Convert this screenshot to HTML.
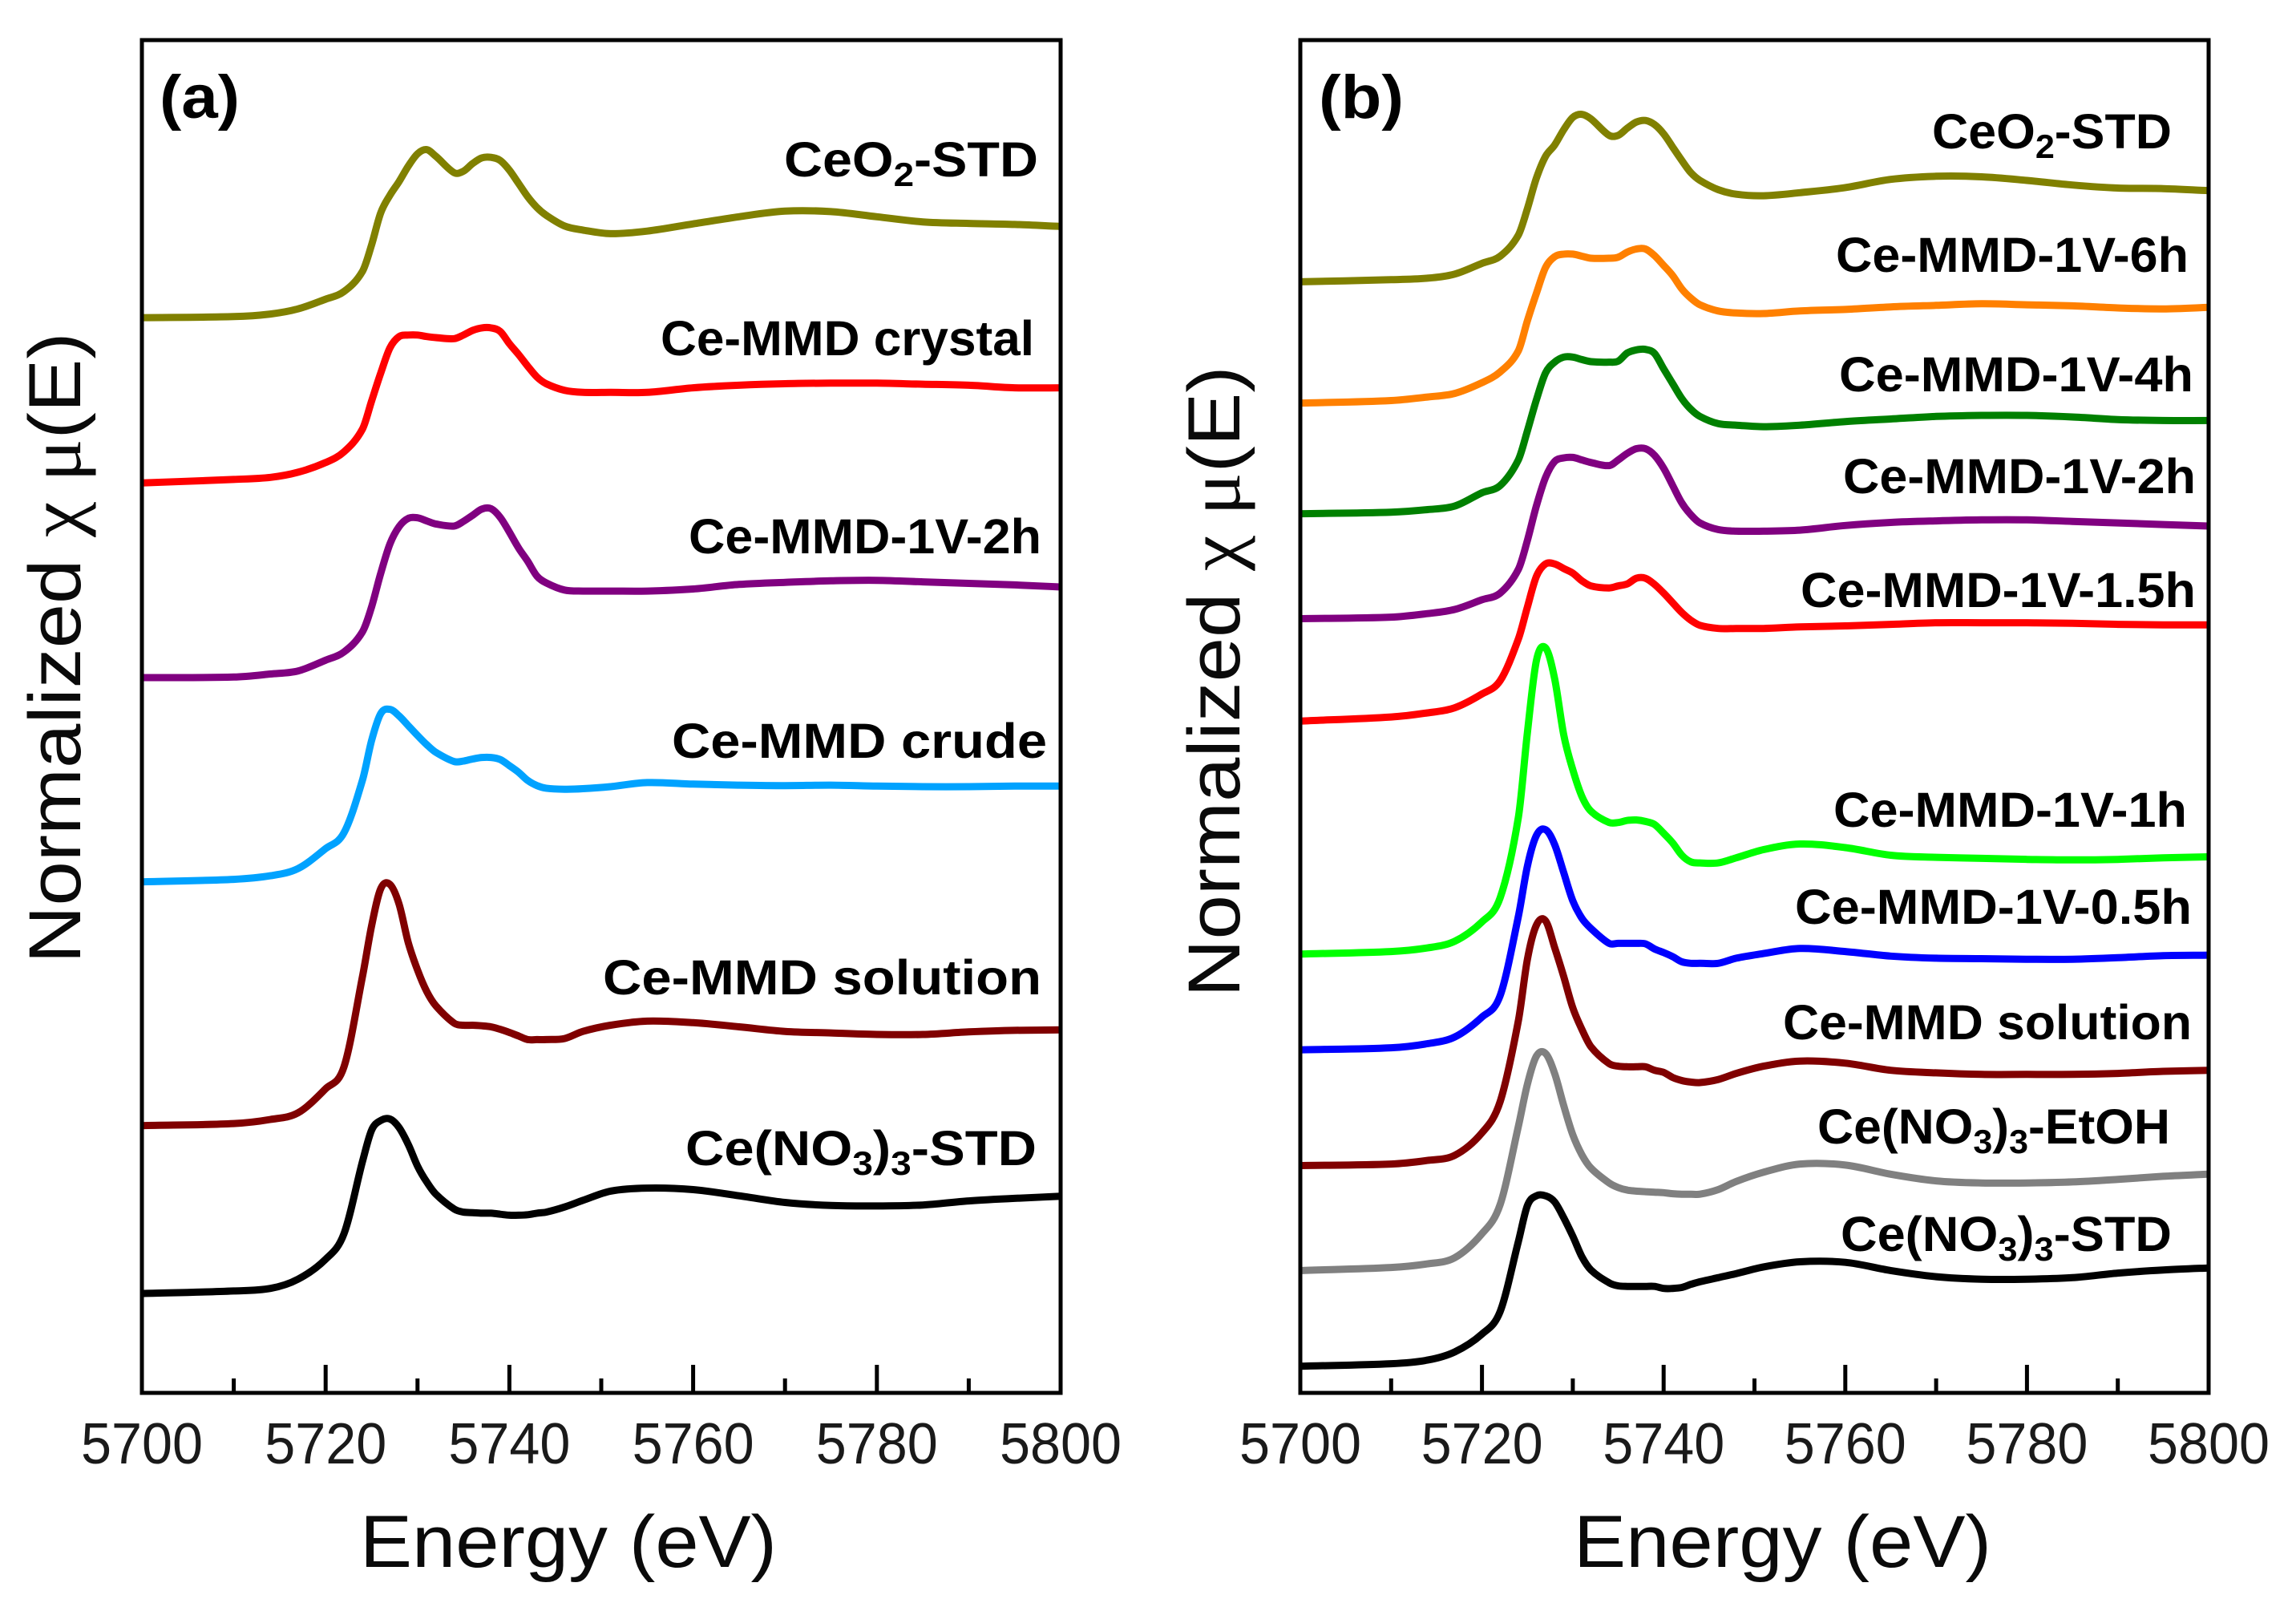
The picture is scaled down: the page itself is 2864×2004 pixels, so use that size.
<!DOCTYPE html>
<html lang="en">
<head>
<meta charset="utf-8">
<title>Normalized XANES spectra</title>
<style>
  html, body { margin: 0; padding: 0; background: #fff; }
  body { width: 2864px; height: 2004px; overflow: hidden; }
  svg { display: block; font-family: "Liberation Sans", sans-serif; }
  .lbl { font-weight: bold; font-size: 61px; fill: #000; }
  .sub { font-size: 42px; }
  .tick { font-size: 72px; fill: #1a1a1a; text-anchor: middle; }
  .xt { font-size: 92px; fill: #0a0a0a; }
  .yt { font-size: 92px; fill: #0a0a0a; text-anchor: middle; }
  .pl { font-weight: bold; font-size: 76px; fill: #000; }
</style>
</head>
<body>
<svg id="fig" xmlns="http://www.w3.org/2000/svg" width="2864" height="2004" viewBox="0 0 2864 2004">
  <g id="panel-a">
    <g id="plot-a"></g>
    <rect x="177" y="50" width="1146" height="1687" fill="none" stroke="#000" stroke-width="5"/>
    <g id="axis-a"></g>
    <text class="pl" x="199" y="147" textLength="100" lengthAdjust="spacingAndGlyphs">(a)</text>
    <text class="xt" x="449" y="1954" textLength="520" lengthAdjust="spacingAndGlyphs">Energy (eV)</text>
    <text class="yt" x="100" y="808" transform="rotate(-90 100 808)" textLength="787" lengthAdjust="spacingAndGlyphs">Normalized <tspan font-family="'Liberation Serif', serif">χ μ</tspan>(E)</text>
    <text class="lbl" x="978" y="220" textLength="317" lengthAdjust="spacingAndGlyphs">CeO<tspan class="sub" dy="12">2</tspan><tspan dy="-12">-STD</tspan></text>
    <text class="lbl" x="824" y="443" textLength="466" lengthAdjust="spacingAndGlyphs">Ce-MMD crystal</text>
    <text class="lbl" x="859" y="690" textLength="440" lengthAdjust="spacingAndGlyphs">Ce-MMD-1V-2h</text>
    <text class="lbl" x="838" y="945" textLength="468" lengthAdjust="spacingAndGlyphs">Ce-MMD crude</text>
    <text class="lbl" x="752" y="1240" textLength="547" lengthAdjust="spacingAndGlyphs">Ce-MMD solution</text>
    <text class="lbl" x="855" y="1453" textLength="438" lengthAdjust="spacingAndGlyphs">Ce(NO<tspan class="sub" dy="12">3</tspan><tspan dy="-12">)</tspan><tspan class="sub" dy="12">3</tspan><tspan dy="-12">-STD</tspan></text>
  </g>
  <g id="panel-b">
    <g id="plot-b"></g>
    <rect x="1622" y="50" width="1133" height="1687" fill="none" stroke="#000" stroke-width="5"/>
    <g id="axis-b"></g>
    <text class="pl" x="1645" y="147" textLength="106" lengthAdjust="spacingAndGlyphs">(b)</text>
    <text class="xt" x="1963" y="1954" textLength="521" lengthAdjust="spacingAndGlyphs">Energy (eV)</text>
    <text class="yt" x="1546" y="850" transform="rotate(-90 1546 850)" textLength="787" lengthAdjust="spacingAndGlyphs">Normalized <tspan font-family="'Liberation Serif', serif">χ μ</tspan>(E)</text>
    <text class="lbl" x="2410" y="185" textLength="299" lengthAdjust="spacingAndGlyphs">CeO<tspan class="sub" dy="12">2</tspan><tspan dy="-12">-STD</tspan></text>
    <text class="lbl" x="2290" y="339" textLength="440" lengthAdjust="spacingAndGlyphs">Ce-MMD-1V-6h</text>
    <text class="lbl" x="2294" y="488" textLength="442" lengthAdjust="spacingAndGlyphs">Ce-MMD-1V-4h</text>
    <text class="lbl" x="2299" y="615" textLength="440" lengthAdjust="spacingAndGlyphs">Ce-MMD-1V-2h</text>
    <text class="lbl" x="2246" y="757" textLength="493" lengthAdjust="spacingAndGlyphs">Ce-MMD-1V-1.5h</text>
    <text class="lbl" x="2287" y="1031" textLength="441" lengthAdjust="spacingAndGlyphs">Ce-MMD-1V-1h</text>
    <text class="lbl" x="2239" y="1152" textLength="495" lengthAdjust="spacingAndGlyphs">Ce-MMD-1V-0.5h</text>
    <text class="lbl" x="2224" y="1296" textLength="510" lengthAdjust="spacingAndGlyphs">Ce-MMD solution</text>
    <text class="lbl" x="2267" y="1426" textLength="440" lengthAdjust="spacingAndGlyphs">Ce(NO<tspan class="sub" dy="12">3</tspan><tspan dy="-12">)</tspan><tspan class="sub" dy="12">3</tspan><tspan dy="-12">-EtOH</tspan></text>
    <text class="lbl" x="2296" y="1560" textLength="413" lengthAdjust="spacingAndGlyphs">Ce(NO<tspan class="sub" dy="12">3</tspan><tspan dy="-12">)</tspan><tspan class="sub" dy="12">3</tspan><tspan dy="-12">-STD</tspan></text>
  </g>
</svg>
<script>
// Shared energy grid (eV) and tick values
const energy = [5700,5710,5714,5717,5720,5722,5724,5725,5726,5727,5728,5729,5730,5731,5732,5734,5735,5736,5737,5738,5739,5740,5741,5742,5743,5744,5746,5748,5751,5755,5760,5765,5770,5775,5780,5785,5790,5795,5800];
const majorTicks = [5700,5720,5740,5760,5780,5800];
const minorTicks = [5710,5730,5750,5770,5790];
const energyDomain = [5700,5800];
const intensityDomain = [0,2642];

// Panel (a): stacked normalized intensity, arbitrary units
const aCeO2 = [2100,2102,2107,2117,2136,2151,2190,2242,2305,2339,2366,2396,2420,2428,2415,2383,2386,2401,2412,2413,2407,2388,2362,2336,2315,2300,2279,2271,2264,2269,2283,2297,2308,2307,2297,2287,2284,2282,2278];
const aCrystal = [1777,1784,1788,1798,1817,1838,1882,1937,1992,2041,2063,2066,2066,2063,2061,2059,2066,2075,2080,2080,2073,2049,2028,2005,1984,1971,1958,1954,1954,1954,1963,1968,1971,1972,1972,1970,1968,1963,1963];
const a1V2h = [1397,1398,1404,1410,1431,1447,1486,1535,1601,1658,1692,1708,1709,1703,1697,1693,1702,1714,1726,1727,1710,1681,1650,1624,1595,1582,1568,1566,1566,1566,1570,1579,1583,1586,1587,1584,1581,1578,1574];
const aCrude = [998,1003,1010,1024,1063,1094,1196,1274,1327,1335,1322,1303,1284,1266,1251,1233,1234,1238,1241,1241,1237,1225,1212,1196,1186,1181,1179,1180,1184,1192,1189,1187,1186,1187,1185,1184,1184,1185,1185];
const aSolution = [522,526,534,547,594,637,812,912,985,993,954,879,826,784,756,722,718,718,717,715,710,704,697,690,690,690,692,706,718,726,723,715,706,703,700,700,705,708,709];
const aNitrate = [194,199,204,222,261,311,451,513,532,535,518,485,443,412,388,359,353,352,351,351,349,347,347,348,351,353,363,376,394,400,397,385,372,366,365,367,375,380,384];

// Panel (b)
const bCeO2 = [2170,2174,2177,2185,2206,2220,2261,2313,2373,2415,2437,2467,2491,2497,2488,2456,2456,2470,2482,2485,2477,2459,2433,2407,2383,2368,2350,2341,2338,2344,2354,2370,2376,2375,2368,2359,2353,2352,2348];
const b6h = [1933,1938,1945,1952,1973,1994,2035,2094,2148,2198,2219,2224,2224,2220,2216,2216,2218,2228,2234,2234,2221,2202,2182,2156,2138,2125,2113,2109,2108,2113,2116,2121,2124,2127,2125,2123,2119,2117,2120];
const b4h = [1717,1720,1725,1732,1758,1772,1822,1879,1940,1992,2013,2023,2023,2018,2014,2013,2015,2031,2037,2038,2030,2000,1971,1942,1921,1907,1893,1890,1887,1890,1897,1902,1907,1909,1909,1906,1901,1899,1899];
const b2h = [1512,1515,1522,1530,1549,1562,1608,1665,1733,1788,1819,1826,1827,1822,1817,1811,1822,1835,1844,1844,1831,1806,1772,1738,1715,1699,1686,1683,1683,1685,1694,1700,1703,1705,1705,1702,1699,1696,1693];
const b1p5h = [1312,1320,1328,1338,1365,1391,1472,1535,1595,1619,1619,1610,1601,1586,1576,1572,1576,1580,1591,1591,1579,1562,1543,1524,1509,1499,1493,1493,1493,1496,1498,1501,1504,1504,1504,1503,1501,1500,1500];
const b1h = [857,862,869,882,920,967,1123,1290,1431,1455,1395,1285,1217,1165,1136,1114,1114,1118,1119,1116,1110,1093,1074,1050,1037,1035,1035,1045,1061,1072,1065,1050,1046,1044,1042,1041,1042,1045,1047];
const b0p5h = [670,674,682,695,734,776,930,1029,1089,1100,1071,1016,961,927,907,878,878,878,878,877,867,860,852,842,839,839,839,849,858,868,862,853,849,848,847,847,850,854,855];
const bSolution = [444,447,454,464,508,569,726,847,914,922,870,813,752,710,676,643,638,637,637,637,630,626,616,610,607,606,612,624,638,648,644,630,625,622,622,622,624,628,630];
const bEtOH = [239,245,252,264,311,368,520,603,658,663,624,561,504,465,439,410,401,396,394,393,392,391,389,388,388,388,397,413,431,447,445,427,414,410,410,412,417,423,427];
const bNitrate = [52,57,64,80,115,159,295,366,385,385,373,342,306,266,240,215,209,208,208,208,208,204,204,206,212,217,225,233,246,256,255,239,227,222,222,225,234,240,244];

const NS = 'http://www.w3.org/2000/svg';

function makeScale(domain, range) {
  return function (v) {
    return range[0] + (v - domain[0]) * (range[1] - range[0]) / (domain[1] - domain[0]);
  };
}

function curvePath(xs, ys) {
  let d = 'M' + xs[0].toFixed(1) + ' ' + ys[0].toFixed(1);
  for (let i = 0; i < xs.length - 1; i++) {
    const i0 = Math.max(0, i - 1), i3 = Math.min(xs.length - 1, i + 2);
    const dx = xs[i + 1] - xs[i];
    const t1 = (ys[i + 1] - ys[i0]) / Math.max(1e-6, xs[i + 1] - xs[i0]);
    const t2 = (ys[i3] - ys[i]) / Math.max(1e-6, xs[i3] - xs[i]);
    d += 'C' + (xs[i] + dx / 3).toFixed(1) + ' ' + (ys[i] + t1 * dx / 3).toFixed(1) + ' ' +
         (xs[i + 1] - dx / 3).toFixed(1) + ' ' + (ys[i + 1] - t2 * dx / 3).toFixed(1) + ' ' +
         xs[i + 1].toFixed(1) + ' ' + ys[i + 1].toFixed(1);
  }
  return d;
}

function drawSeries(parent, sx, sy, values, color, name) {
  const p = document.createElementNS(NS, 'path');
  
  
  p.setAttribute('d', curvePath(energy.map(sx), values.map(sy)));
  p.setAttribute('fill', 'none');
  p.setAttribute('stroke', color);
  p.setAttribute('stroke-width', '9');
  p.setAttribute('stroke-linejoin', 'round');
  parent.appendChild(p);
}

function drawAxis(parent, sx, bottom, labelBaseline) {
  majorTicks.forEach(function (t) {
    const l = document.createElementNS(NS, 'line');
    
    
    l.setAttribute('x1', sx(t)); l.setAttribute('x2', sx(t));
    l.setAttribute('y1', bottom); l.setAttribute('y2', bottom - 35);
    l.setAttribute('stroke', '#000'); l.setAttribute('stroke-width', '5');
    parent.appendChild(l);
    const txt = document.createElementNS(NS, 'text');
    
    
    txt.setAttribute('class', 'tick');
    txt.setAttribute('x', sx(t));
    txt.setAttribute('y', labelBaseline);
    txt.setAttribute('textLength', '152');
    txt.setAttribute('lengthAdjust', 'spacingAndGlyphs');
    txt.textContent = String(t);
    parent.appendChild(txt);
  });
  minorTicks.forEach(function (t) {
    const l = document.createElementNS(NS, 'line');
    
    
    l.setAttribute('x1', sx(t)); l.setAttribute('x2', sx(t));
    l.setAttribute('y1', bottom); l.setAttribute('y2', bottom - 18);
    l.setAttribute('stroke', '#000'); l.setAttribute('stroke-width', '5');
    parent.appendChild(l);
  });
}

const sy = makeScale(intensityDomain, [1737, 50]);
const sxA = makeScale(energyDomain, [177, 1323]);
const sxB = makeScale(energyDomain, [1622, 2755]);
const plotA = document.getElementById('plot-a');
const plotB = document.getElementById('plot-b');

drawSeries(plotA, sxA, sy, aCeO2, '#808000', 'series-a-ceo2-std');
drawSeries(plotA, sxA, sy, aCrystal, '#ff0000', 'series-a-crystal');
drawSeries(plotA, sxA, sy, a1V2h, '#800080', 'series-a-1v-2h');
drawSeries(plotA, sxA, sy, aCrude, '#00a2ff', 'series-a-crude');
drawSeries(plotA, sxA, sy, aSolution, '#800000', 'series-a-solution');
drawSeries(plotA, sxA, sy, aNitrate, '#000000', 'series-a-ceno3-std');

drawSeries(plotB, sxB, sy, bCeO2, '#808000', 'series-b-ceo2-std');
drawSeries(plotB, sxB, sy, b6h, '#ff8000', 'series-b-1v-6h');
drawSeries(plotB, sxB, sy, b4h, '#008000', 'series-b-1v-4h');
drawSeries(plotB, sxB, sy, b2h, '#800080', 'series-b-1v-2h');
drawSeries(plotB, sxB, sy, b1p5h, '#ff0000', 'series-b-1v-1-5h');
drawSeries(plotB, sxB, sy, b1h, '#00ff00', 'series-b-1v-1h');
drawSeries(plotB, sxB, sy, b0p5h, '#0000ff', 'series-b-1v-0-5h');
drawSeries(plotB, sxB, sy, bSolution, '#800000', 'series-b-solution');
drawSeries(plotB, sxB, sy, bEtOH, '#808080', 'series-b-ceno3-etoh');
drawSeries(plotB, sxB, sy, bNitrate, '#000000', 'series-b-ceno3-std');

drawAxis(document.getElementById('axis-a'), sxA, 1737, 1825);
drawAxis(document.getElementById('axis-b'), sxB, 1737, 1825);
</script>
</body>
</html>
